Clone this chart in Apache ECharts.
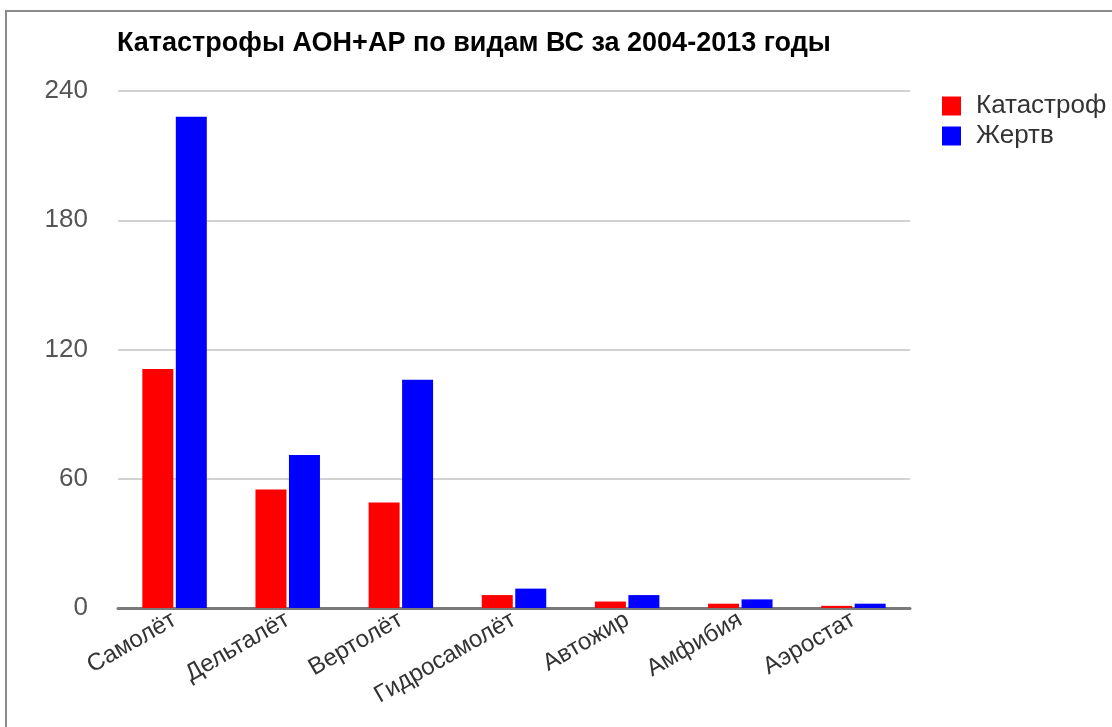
<!DOCTYPE html>
<html><head><meta charset="utf-8">
<script src="https://cdn.jsdelivr.net/npm/echarts@6/dist/echarts.min.js"></script>
<style>
html,body{margin:0;padding:0;background:#fff;overflow:hidden}
#chart{position:absolute;left:0;top:0;width:1112px;height:727px}
#frame{position:absolute;left:5px;top:10px;width:1200px;height:800px;border-left:2px solid #8a8a8a;border-top:2px solid #8a8a8a;pointer-events:none}
</style></head>
<body>
<div id="chart"></div>
<div id="frame"></div>
<script>
const categories = ['Самолёт','Дельталёт','Вертолёт','Гидросамолёт','Автожир','Амфибия','Аэростат'];
const crashes = [111, 55, 49, 6, 3, 2, 1];
const victims = [228, 71, 106, 9, 6, 4, 2];
const yTicks = [0, 60, 120, 180, 240];
const seriesNames = ['Катастроф', 'Жертв'];

const chart = echarts.init(document.getElementById('chart'));
chart.setOption({
  animation: false,
  textStyle: { fontFamily: 'Liberation Sans, Arial, sans-serif' },
  title: {
    text: 'Катастрофы АОН+АР по видам ВС за 2004-2013 годы',
    left: 112, top: 25,
    textStyle: { fontFamily: 'Liberation Sans, Arial', fontWeight: 'bold', fontSize: 27, color: '#000' }
  },
  legend: {
    orient: 'vertical', left: 937, top: 88,
    itemWidth: 19, itemHeight: 19, itemGap: 4,
    icon: 'rect',
    data: seriesNames,
    textStyle: { fontSize: 26, color: '#333', padding: [0,0,0,10] }
  },
  grid: { left: 118, right: 202, top: 91, bottom: 119, containLabel: false },
  xAxis: {
    type: 'category', data: categories,
    axisLine: { show: true, lineStyle: { color: '#7a7a7a', width: 3 } },
    axisTick: { show: false },
    axisLabel: { rotate: 30, fontSize: 24, color: '#333', margin: 10, interval: 0 }
  },
  yAxis: {
    type: 'value', min: yTicks[0], max: yTicks[yTicks.length-1], interval: 60,
    axisLine: { show: false }, axisTick: { show: false },
    splitLine: { lineStyle: { color: '#d2d2d2', width: 2 } },
    axisLabel: { fontSize: 26, color: '#555', margin: 30 }
  },
  series: [
    { name: seriesNames[0], type: 'bar', data: crashes, barWidth: 31, barGap: '8%', itemStyle: { color: '#ff0000' } },
    { name: seriesNames[1], type: 'bar', data: victims, barWidth: 31, itemStyle: { color: '#0000ff' } }
  ]
});
</script>
</body></html>
